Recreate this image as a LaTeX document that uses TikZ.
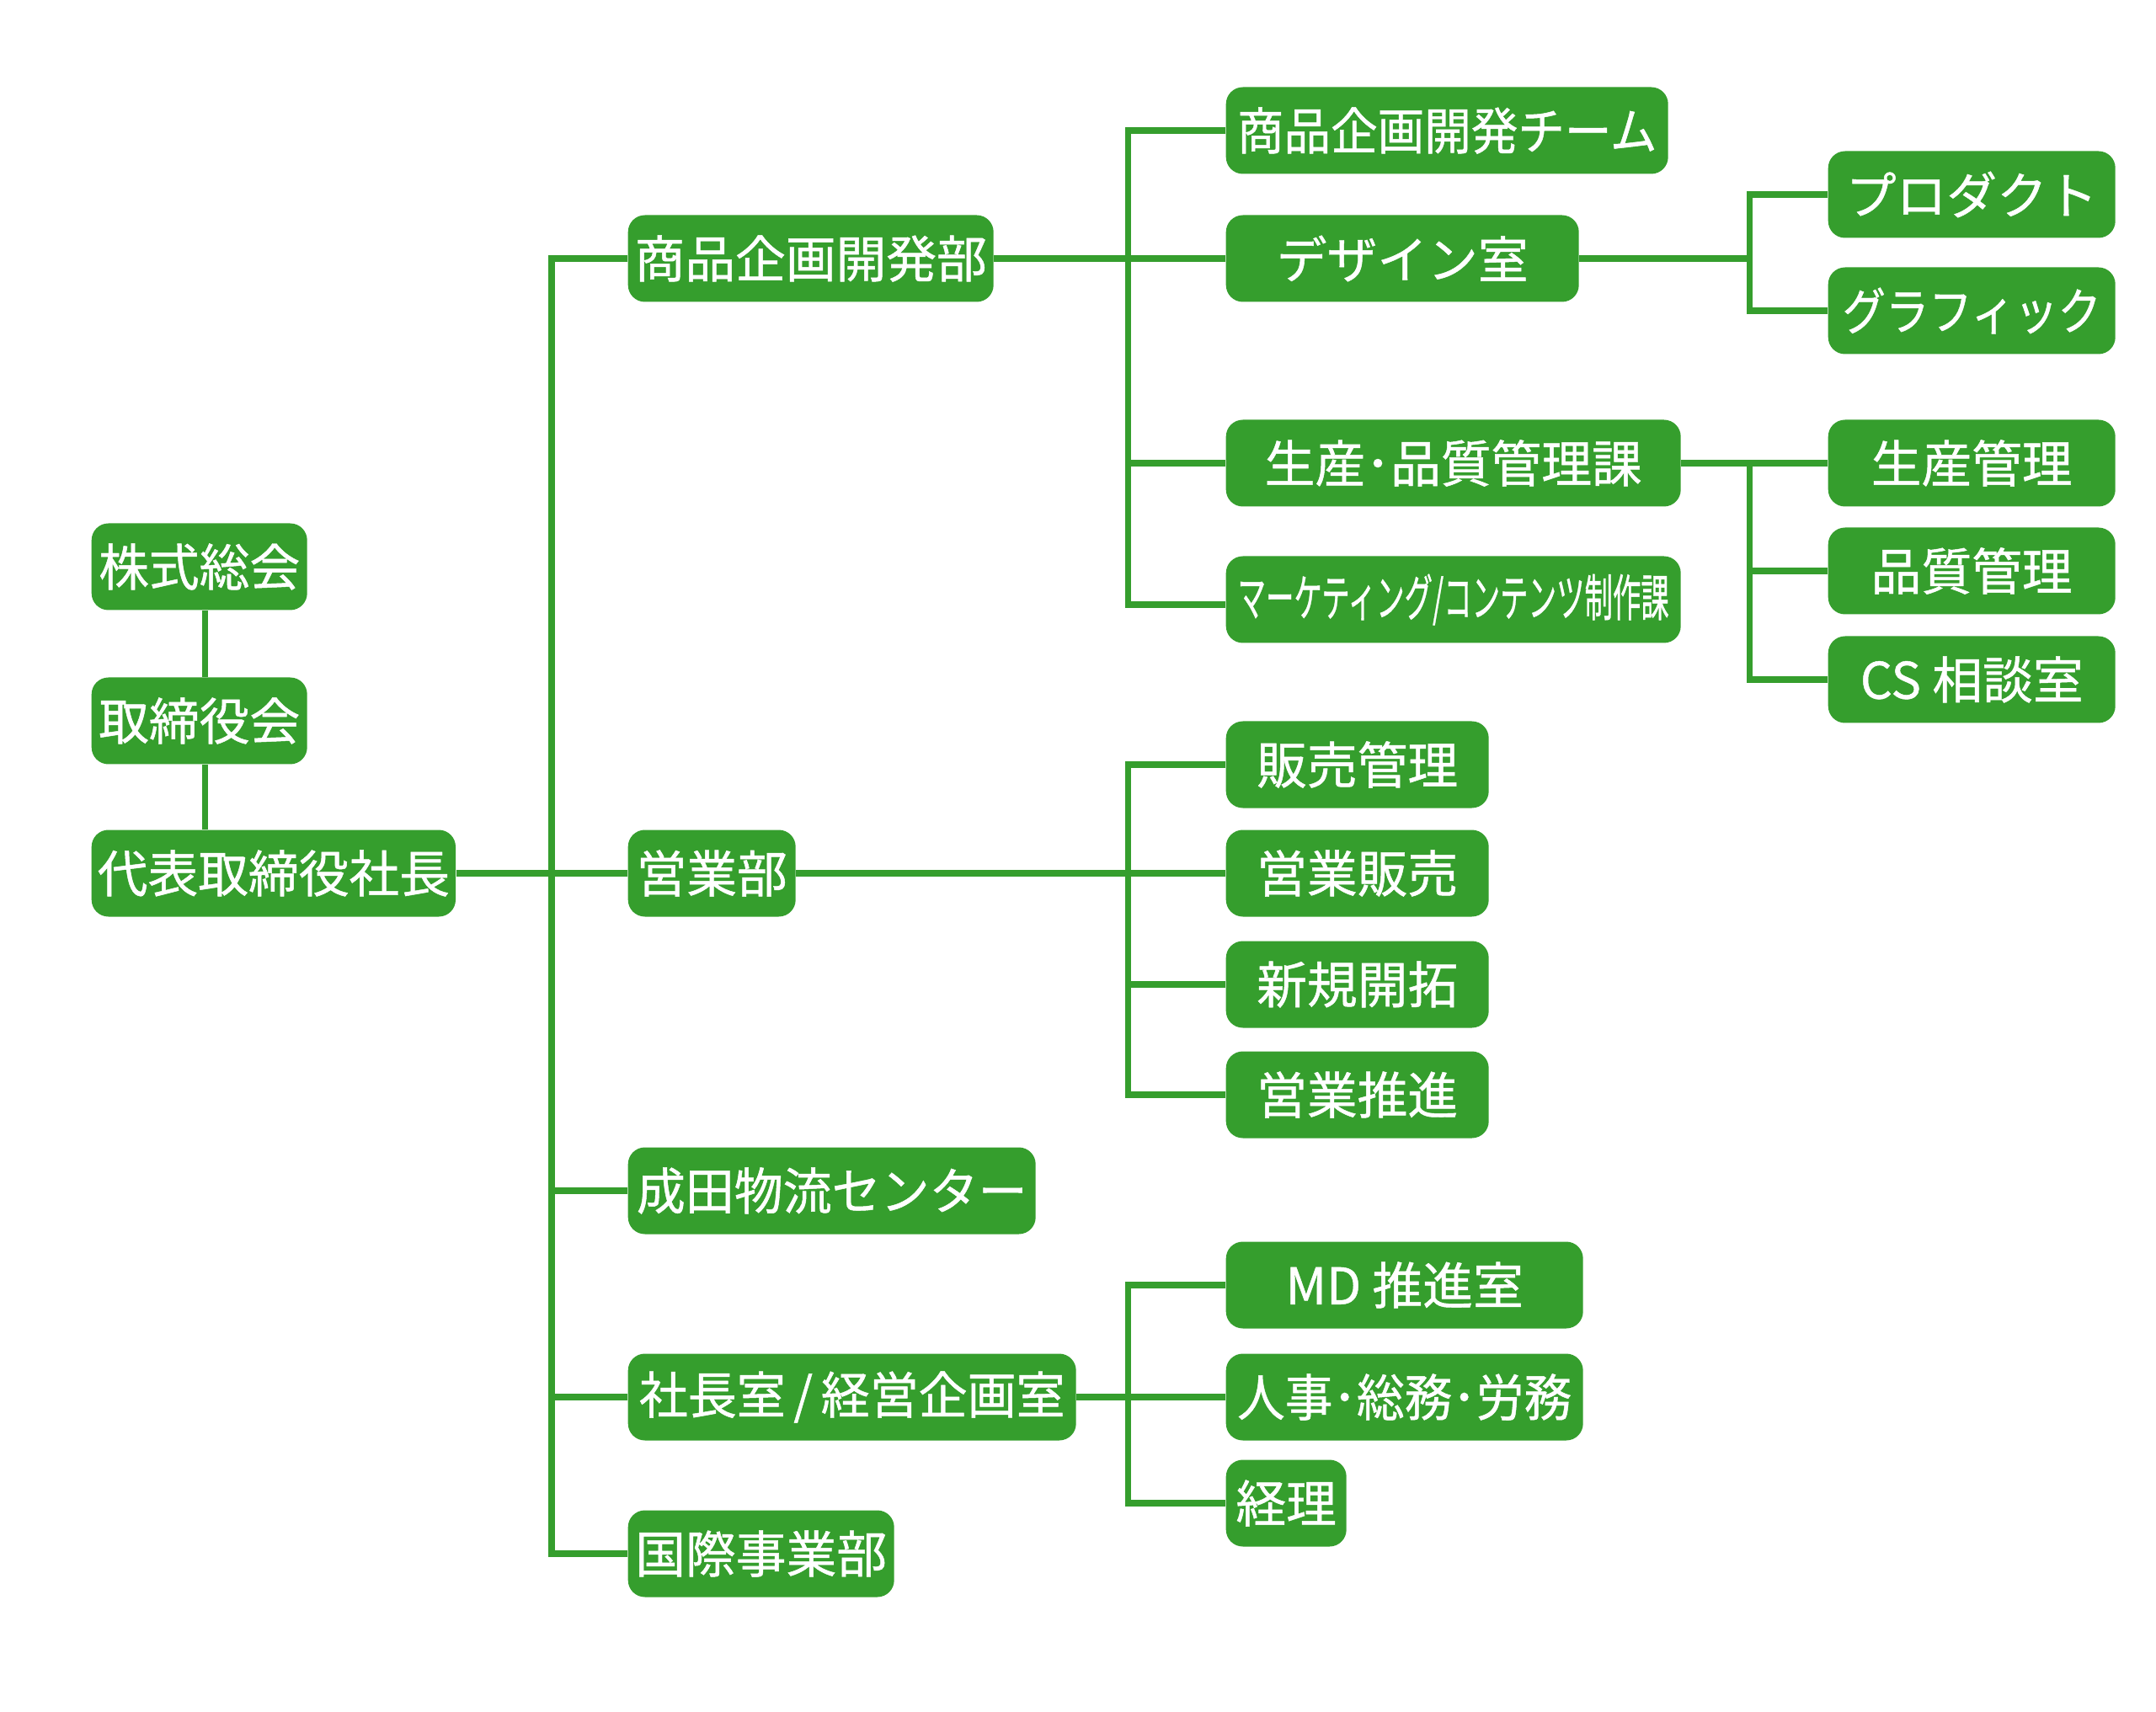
\documentclass[tikz,border=0pt]{standalone}
\usepackage{fontspec}
\setmainfont{Noto Sans CJK JP}
\newfontfamily\orgfont{Noto Sans CJK JP}[FakeBold=0.8]
\usepackage{tikz}
\usetikzlibrary{calc}
\definecolor{orggreen}{RGB}{53,158,45}
\tikzstyle{line} = [draw=orggreen, line width=2pt]
\tikzstyle{unit} = [fill=orggreen, rounded corners=0.2cm, text=white, minimum height=1.03cm, inner sep=2pt, font=\orgfont\fontsize{17pt}{20pt}\selectfont, anchor=west]

\begin{document}
\begin{tikzpicture}
        \useasboundingbox (0,0) rectangle (25.6,-20.33);
        % top management
        \node[unit, minimum width=2.56cm] (kabu) at (1.08,-6.73) {株式総会};
        \node[unit, minimum width=2.56cm] (tori) at (1.08,-8.56) {取締役会};
        \node[unit, minimum width=4.32cm] (pres) at (1.08,-10.37) {代表取締役社長};
        % departments
        \node[unit, minimum width=4.34cm] (shohin) at (7.45,-3.07) {商品企画開発部};
        \node[unit, minimum width=1.99cm] (eigyo) at (7.45,-10.37) {営業部};
        \node[unit, minimum width=4.84cm] (narita) at (7.45,-14.14) {\scalebox{0.97}[1]{成田物流センター}};
        \node[unit, minimum width=5.32cm] (shacho) at (7.45,-16.59) {\scalebox{0.97}[1]{社長室\,/\,経営企画室}};
        \node[unit, minimum width=3.16cm] (kokusai) at (7.45,-18.45) {国際事業部};
        % sections
        \node[unit, minimum width=5.25cm] (team) at (14.55,-1.55) {\scalebox{0.93}[1]{商品企画開発チーム}};
        \node[unit, minimum width=4.19cm] (design) at (14.55,-3.07) {デザイン室};
        \node[unit, minimum width=5.40cm] (seisan) at (14.55,-5.50) {生産･品質管理課};
        \node[unit, minimum width=5.40cm] (mkt) at (14.55,-7.12) {\scalebox{0.56}[1]{マーケティング/コンテンツ制作課}};
        \node[unit, minimum width=3.12cm] (hanbai) at (14.55,-9.08) {販売管理};
        \node[unit, minimum width=3.12cm] (eigyohan) at (14.55,-10.37) {営業販売};
        \node[unit, minimum width=3.12cm] (shinki) at (14.55,-11.69) {新規開拓};
        \node[unit, minimum width=3.12cm] (suishin) at (14.55,-13.00) {営業推進};
        \node[unit, minimum width=4.24cm] (md) at (14.55,-15.26) {MD 推進室};
        \node[unit, minimum width=4.24cm] (jinji) at (14.55,-16.59) {\scalebox{0.95}[1]{人事･総務･労務}};
        \node[unit, minimum width=1.43cm] (keiri) at (14.55,-17.85) {経理};
        % teams
        \node[unit, minimum width=3.41cm] (product) at (21.70,-2.31) {プロダクト};
        \node[unit, minimum width=3.41cm] (graphic) at (21.70,-3.69) {\scalebox{0.86}[1]{グラフィック}};
        \node[unit, minimum width=3.41cm] (seikan) at (21.70,-5.50) {生産管理};
        \node[unit, minimum width=3.41cm] (hinshitsu) at (21.70,-6.78) {品質管理};
        \node[unit, minimum width=3.41cm] (cs) at (21.70,-8.07) {CS 相談室};
        % connectors
        \path[line] ($(kabu.south)+(0.07,0)$) -- ($(tori.north)+(0.07,0)$);
        \path[line] ($(tori.south)+(0.07,0)$) -- ($(tori.south |- pres.north)+(0.07,0)$);
        \path[line] (pres.east) -- (eigyo.west);
        \path[line] (shohin.west) -- ++(-0.9,0) |- (kokusai.west);
        \path[line] (narita.west) -- ++(-0.9,0);
        \path[line] (shacho.west) -- ++(-0.9,0);
        \path[line] (shohin.east) -- (design.west);
        \path[line] (team.west) -- ++(-1.16,0) |- ($(mkt.west)+(0,-0.06)$);
        \path[line] (seisan.west) -- ++(-1.16,0);
        \path[line] (eigyo.east) -- (eigyohan.west);
        \path[line] (hanbai.west) -- ++(-1.16,0) |- (suishin.west);
        \path[line] (shinki.west) -- ++(-1.16,0);
        \path[line] (shacho.east) -- (jinji.west);
        \path[line] (md.west) -- ++(-1.16,0) |- (keiri.west);
        \path[line] (design.east) -- ++(2.03,0);
        \path[line] (product.west) -- ++(-0.93,0) |- (graphic.west);
        \path[line] (seisan.east) -- (seikan.west);
        \path[line] (seikan.west) -- ++(-0.93,0) |- (cs.west);
        \path[line] (hinshitsu.west) -- ++(-0.93,0);
    \end{tikzpicture}
\end{document}
